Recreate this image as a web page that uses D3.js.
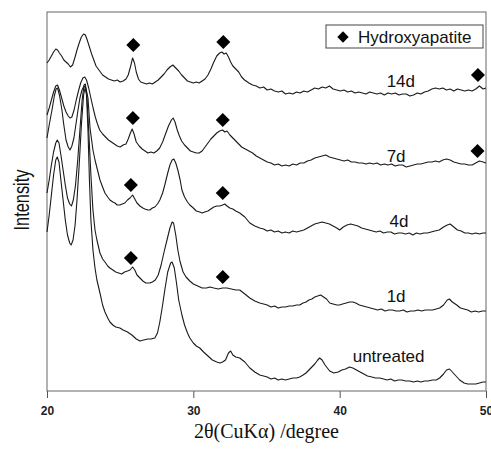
<!DOCTYPE html>
<html>
<head>
<meta charset="utf-8">
<script src="https://cdn.jsdelivr.net/npm/d3@7"></script>
<style>
  body { margin: 0; background: #fff; }
  svg { display: block; }
</style>
</head>
<body>
<svg id="xrd-svg" width="491" height="450"></svg>
<script>
// XRD patterns, [2theta (deg), intensity (a.u., offset stacked)]
const d14 = [[20.00,328],[20.15,331],[20.30,335],[20.45,339],[20.60,342],[20.72,341],[20.85,338],[21.00,335],[21.15,331],[21.30,329],[21.45,327],[21.60,324],[21.75,326],[21.90,333],[22.05,341],[22.20,348],[22.35,354],[22.50,357],[22.62,356],[22.75,351],[22.90,344],[23.05,337],[23.20,331],[23.35,325],[23.50,322],[23.65,319],[23.80,316],[24.00,314],[24.20,312],[24.40,311],[24.60,310],[24.80,311],[25.00,309],[25.20,310],[25.40,312],[25.55,316],[25.70,324],[25.85,333],[25.98,328],[26.10,319],[26.25,312],[26.40,309],[26.60,308],[26.80,307],[27.00,308],[27.20,307],[27.40,309],[27.60,311],[27.80,314],[28.00,317],[28.20,321],[28.40,324],[28.60,326],[28.80,323],[29.00,320],[29.20,316],[29.40,313],[29.60,310],[29.80,309],[30.00,308],[30.20,309],[30.40,308],[30.60,310],[30.80,312],[31.00,316],[31.20,322],[31.40,329],[31.60,335],[31.80,338],[31.95,339],[32.10,337],[32.25,338],[32.40,334],[32.55,329],[32.70,325],[32.90,322],[33.10,319],[33.30,314],[33.50,311],[33.80,308],[34.05,306],[34.30,305],[34.55,303],[34.80,304],[35.05,301],[35.30,302],[35.55,300],[35.80,299],[36.05,300],[36.30,297],[36.55,298],[36.80,297],[37.05,299],[37.30,298],[37.55,300],[37.80,299],[38.05,301],[38.30,303],[38.55,302],[38.80,304],[39.05,303],[39.30,305],[39.55,302],[39.80,301],[40.05,300],[40.30,301],[40.55,299],[40.80,300],[41.05,298],[41.30,299],[41.55,298],[41.80,297],[42.05,299],[42.30,298],[42.55,297],[42.80,298],[43.05,296],[43.30,298],[43.55,297],[43.80,298],[44.05,296],[44.30,297],[44.55,297],[44.80,295],[45.05,296],[45.30,298],[45.55,297],[45.80,299],[46.05,300],[46.30,302],[46.55,303],[46.80,302],[47.05,303],[47.30,301],[47.55,302],[47.80,300],[48.05,302],[48.30,301],[48.55,300],[48.80,301],[49.05,300],[49.30,302],[49.55,305],[49.80,302],[50.00,303]]

const d7 = [[20.00,276],[20.15,283],[20.30,291],[20.45,299],[20.60,305],[20.72,306],[20.85,301],[21.00,293],[21.15,285],[21.30,279],[21.45,275],[21.57,273],[21.70,274],[21.85,281],[22.00,291],[22.15,300],[22.30,308],[22.45,313],[22.58,314],[22.70,311],[22.85,303],[23.00,293],[23.15,283],[23.30,274],[23.45,267],[23.60,261],[23.80,257],[24.00,254],[24.20,251],[24.40,249],[24.60,247],[24.80,245],[25.00,244],[25.20,246],[25.40,247],[25.55,252],[25.70,258],[25.82,262],[25.95,257],[26.10,249],[26.30,245],[26.50,242],[26.70,240],[26.90,238],[27.10,239],[27.30,238],[27.50,240],[27.70,243],[27.90,249],[28.10,257],[28.30,265],[28.50,271],[28.62,273],[28.75,269],[28.90,261],[29.05,255],[29.20,250],[29.40,246],[29.60,243],[29.80,240],[30.00,239],[30.20,238],[30.40,238],[30.60,240],[30.80,244],[31.00,248],[31.20,252],[31.40,255],[31.60,258],[31.80,260],[32.00,261],[32.15,259],[32.30,260],[32.50,256],[32.70,253],[32.90,250],[33.10,247],[33.30,244],[33.55,242],[33.80,240],[34.05,238],[34.30,235],[34.55,233],[34.80,231],[35.05,229],[35.30,228],[35.55,226],[35.80,227],[36.05,225],[36.30,226],[36.55,225],[36.80,227],[37.05,226],[37.30,228],[37.55,228],[37.80,230],[38.05,231],[38.30,233],[38.55,234],[38.80,235],[39.05,236],[39.30,234],[39.55,233],[39.80,232],[40.05,231],[40.30,230],[40.55,231],[40.80,229],[41.05,229],[41.30,228],[41.55,228],[41.80,227],[42.05,228],[42.30,227],[42.55,228],[42.80,226],[43.05,227],[43.30,226],[43.55,227],[43.80,225],[44.05,226],[44.30,226],[44.55,224],[44.80,225],[45.05,226],[45.30,227],[45.55,227],[45.80,228],[46.05,229],[46.30,229],[46.55,230],[46.80,229],[47.05,231],[47.30,232],[47.55,231],[47.80,229],[48.05,228],[48.30,227],[48.55,227],[48.80,226],[49.05,226],[49.30,228],[49.55,230],[49.80,229],[50.00,228]]

const d4 = [[20.00,253],[20.15,266],[20.34,281],[20.50,295],[20.62,302],[20.72,303],[20.85,296],[21.02,281],[21.15,266],[21.30,251],[21.45,244],[21.57,241],[21.70,245],[21.84,253],[22.00,269],[22.12,281],[22.25,293],[22.39,301],[22.53,305],[22.66,303],[22.80,293],[22.94,263],[23.14,241],[23.28,231],[23.45,221],[23.62,211],[23.80,204],[23.96,198],[24.15,194],[24.30,191],[24.50,189],[24.64,188],[24.80,186],[24.98,186],[25.15,187],[25.32,188],[25.50,191],[25.67,193],[25.85,196],[26.00,192],[26.15,188],[26.35,185],[26.55,183],[26.69,182],[26.90,181],[27.03,181],[27.20,183],[27.37,184],[27.55,187],[27.71,191],[27.90,198],[28.05,206],[28.25,218],[28.40,226],[28.55,231],[28.67,232],[28.80,228],[28.94,221],[29.10,211],[29.22,201],[29.40,194],[29.60,189],[29.76,186],[30.00,183],[30.20,180],[30.44,179],[30.60,178],[30.78,179],[31.00,180],[31.20,182],[31.40,184],[31.60,185],[31.81,185],[32.00,186],[32.15,187],[32.30,185],[32.49,183],[32.70,182],[32.90,180],[33.17,178],[33.52,174],[33.86,168],[34.20,165],[34.54,163],[34.80,162],[35.05,160],[35.30,161],[35.55,159],[35.80,160],[36.05,158],[36.30,159],[36.55,158],[36.80,160],[37.05,159],[37.30,160],[37.55,161],[37.80,163],[38.05,165],[38.30,167],[38.55,168],[38.80,169],[39.05,168],[39.30,167],[39.55,165],[39.80,163],[40.00,161],[40.25,164],[40.50,166],[40.75,167],[41.00,166],[41.25,165],[41.50,163],[41.75,162],[42.00,161],[42.25,160],[42.50,159],[42.75,160],[43.00,158],[43.25,159],[43.50,159],[43.75,157],[44.00,158],[44.25,158],[44.50,157],[44.75,158],[45.00,156],[45.25,158],[45.50,157],[45.75,158],[46.00,158],[46.25,159],[46.50,160],[46.80,161],[47.10,164],[47.35,166],[47.55,167],[47.80,164],[48.05,161],[48.30,160],[48.55,158],[48.80,158],[49.05,157],[49.30,158],[49.55,157],[49.80,158],[50.00,158]]

const d1 = [[20.00,198],[20.15,211],[20.30,226],[20.45,239],[20.60,248],[20.70,251],[20.82,248],[20.95,236],[21.10,221],[21.25,206],[21.40,193],[21.55,187],[21.67,185],[21.80,191],[21.95,206],[22.10,231],[22.25,261],[22.40,291],[22.53,306],[22.62,307],[22.72,296],[22.85,261],[23.00,216],[23.14,181],[23.28,161],[23.41,151],[23.62,138],[23.80,132],[23.96,129],[24.15,125],[24.30,123],[24.50,121],[24.70,119],[24.90,118],[25.10,117],[25.30,119],[25.50,120],[25.67,121],[25.85,124],[26.00,121],[26.15,116],[26.35,113],[26.55,110],[26.75,108],[27.03,108],[27.20,109],[27.40,111],[27.60,116],[27.80,126],[28.00,139],[28.20,151],[28.40,163],[28.55,169],[28.65,168],[28.80,156],[28.94,141],[29.10,129],[29.30,119],[29.50,114],[29.76,110],[30.00,107],[30.30,105],[30.60,103],[30.90,103],[31.13,104],[31.40,103],[31.70,102],[32.00,103],[32.30,103],[32.60,102],[32.90,101],[33.17,101],[33.52,97],[33.86,93],[34.20,90],[34.54,88],[34.80,87],[35.05,86],[35.30,84],[35.55,85],[35.80,83],[36.05,84],[36.30,84],[36.55,85],[36.80,85],[37.05,86],[37.27,86],[37.50,88],[37.70,89],[37.90,91],[38.10,92],[38.30,94],[38.50,95],[38.70,96],[38.90,94],[39.10,92],[39.32,88],[39.55,87],[39.80,86],[40.00,86],[40.20,87],[40.45,88],[40.68,89],[40.90,89],[41.10,88],[41.35,86],[41.60,85],[41.85,84],[42.10,83],[42.35,82],[42.60,81],[42.85,82],[43.10,80],[43.35,81],[43.60,81],[43.85,80],[44.10,80],[44.35,81],[44.60,79],[44.85,80],[45.10,80],[45.35,81],[45.60,80],[45.85,81],[46.10,81],[46.35,81],[46.60,82],[46.83,83],[47.10,86],[47.35,91],[47.50,92],[47.70,89],[48.00,86],[48.25,83],[48.50,82],[48.75,81],[49.00,79],[49.25,80],[49.50,79],[49.75,80],[50.00,80]]

const d0 = [[20.00,159],[20.15,176],[20.30,196],[20.45,216],[20.60,231],[20.70,234],[20.82,229],[20.95,211],[21.10,191],[21.25,171],[21.40,156],[21.55,148],[21.65,146],[21.78,151],[21.92,166],[22.05,191],[22.20,226],[22.35,266],[22.50,296],[22.60,303],[22.70,296],[22.80,261],[22.90,211],[23.00,171],[23.14,141],[23.28,123],[23.41,111],[23.62,98],[23.80,86],[23.96,79],[24.15,73],[24.30,69],[24.50,66],[24.70,64],[24.98,63],[25.20,61],[25.50,59],[25.80,56],[26.10,52],[26.35,50],[26.60,51],[26.90,52],[27.10,52],[27.37,53],[27.55,58],[27.71,69],[27.90,86],[28.05,101],[28.25,119],[28.45,128],[28.55,129],[28.70,123],[28.85,108],[29.00,91],[29.22,76],[29.40,66],[29.60,58],[29.76,53],[30.00,48],[30.20,45],[30.44,43],[30.70,39],[31.00,35],[31.30,31],[31.60,29],[31.81,28],[32.00,29],[32.20,31],[32.40,38],[32.55,40],[32.70,36],[32.90,34],[33.17,33],[33.52,29],[33.86,23],[34.20,19],[34.54,16],[34.80,15],[35.05,14],[35.30,12],[35.55,13],[35.80,11],[36.05,12],[36.30,11],[36.55,12],[36.80,13],[37.05,13],[37.27,14],[37.50,16],[37.70,18],[37.90,21],[38.10,24],[38.30,27],[38.50,31],[38.63,33],[38.80,31],[39.00,26],[39.32,20],[39.60,18],[39.90,19],[40.15,21],[40.40,22],[40.68,24],[40.90,23],[41.15,21],[41.40,19],[41.65,17],[41.90,15],[42.20,14],[42.45,13],[42.73,13],[43.00,12],[43.25,11],[43.50,12],[43.75,10],[44.00,11],[44.25,11],[44.50,10],[44.78,10],[45.05,9],[45.30,10],[45.55,9],[45.80,10],[46.05,10],[46.35,11],[46.60,11],[46.83,13],[47.10,17],[47.30,21],[47.51,22],[47.70,19],[47.95,15],[48.20,11],[48.50,8],[48.75,7],[49.00,7],[49.30,7],[49.55,8],[49.80,9],[50.00,9]]

// hydroxyapatite reflections marked above each pattern
const hap14 = [[25.90,346],[32.05,349],[49.45,316]]
const hap7 = [[25.87,273],[32.01,271],[49.42,240]]
const hap4 = [[25.73,206],[32.01,198]]
const hap1 = [[25.73,133],[32.01,114]]

const sampleNames = ["14d", "7d", "4d", "1d", "untreated"]
const labelAt = [[43.21,304],[43.21,229],[43.41,164],[43.21,89],[40.89,29]]
const xTicks = [20, 30, 40, 50]

let svg = d3.select("#xrd-svg")
let plotLeft = 47, plotRight = 486, plotTop = 12, plotBottom = 391

let xScale = d3.scaleLinear().domain([20, 50]).range([plotLeft, plotRight])
let yScale = d3.scaleLinear().domain([0, 379]).range([plotBottom, plotTop])

// x axis
let xAxis = svg.append("g")
    .attr("transform", "translate(0," + plotBottom + ")")
    .call(d3.axisBottom(xScale).tickValues(xTicks).tickSize(7).tickSizeOuter(0))
xAxis.select(".domain").remove()
xAxis.selectAll(".tick line").attr("stroke", "#555")
xAxis.selectAll(".tick text")
    .attr("y", 15)
    .attr("fill", "#222")
    .style("font-family", "'Liberation Sans', Arial, sans-serif")
    .style("font-size", "12px")
    .style("font-weight", "bold")

// plot frame
svg.append("rect")
    .attr("x", plotLeft).attr("y", plotTop)
    .attr("width", plotRight - plotLeft).attr("height", plotBottom - plotTop)
    .attr("fill", "none")
    .attr("stroke", "#666")
    .attr("stroke-width", 1)

let valueLine = d3.line()
    .x(d => xScale(d[0]))
    .y(d => yScale(d[1]))

let series = [d14, d7, d4, d1, d0]
series.forEach(s => {
    svg.append("path")
        .datum(s)
        .attr("d", valueLine)
        .attr("fill", "none")
        .attr("stroke", "#1a1a1a")
        .attr("stroke-width", 1.1)
        .attr("stroke-linejoin", "round")
})

// diamonds
let diamond = d3.symbol().type(d3.symbolSquare).size(98)
let marks = [].concat(hap14, hap7, hap4, hap1)
svg.selectAll(".hap")
    .data(marks)
    .join("path")
    .attr("class", "hap")
    .attr("d", diamond)
    .attr("transform", d => "translate(" + xScale(d[0]) + "," + yScale(d[1]) + ") rotate(45)")
    .attr("fill", "#000")

// sample labels
svg.selectAll(".lbl")
    .data(sampleNames)
    .join("text")
    .attr("class", "lbl")
    .attr("x", (d, i) => xScale(labelAt[i][0]))
    .attr("y", (d, i) => yScale(labelAt[i][1]))
    .style("font-family", "'Liberation Sans', Arial, sans-serif")
    .style("font-size", "17px")
    .attr("fill", "#111")
    .text(d => d)

// legend
let legend = svg.append("g")
legend.append("rect")
    .attr("x", 326).attr("y", 25)
    .attr("width", 157).attr("height", 23)
    .attr("fill", "#fff")
    .attr("stroke", "#444")
legend.append("path")
    .attr("d", d3.symbol().type(d3.symbolSquare).size(64))
    .attr("transform", "translate(343,37) rotate(45)")
    .attr("fill", "#000")
legend.append("text")
    .attr("x", 358).attr("y", 43)
    .style("font-family", "'Liberation Sans', Arial, sans-serif")
    .style("font-size", "17px")
    .attr("fill", "#111")
    .text("Hydroxyapatite")

// axis titles
svg.append("text")
    .attr("x", (plotLeft + plotRight) / 2).attr("y", 438)
    .attr("text-anchor", "middle")
    .style("font-family", "'Liberation Serif', 'Times New Roman', serif")
    .style("font-size", "20px")
    .attr("fill", "#111")
    .text("2θ(CuKα) /degree")

svg.append("text")
    .attr("transform", "translate(29,200) rotate(-90)")
    .attr("text-anchor", "middle")
    .attr("textLength", 61)
    .attr("lengthAdjust", "spacingAndGlyphs")
    .style("font-family", "'Liberation Sans', Arial, sans-serif")
    .style("font-size", "22px")
    .attr("fill", "#111")
    .text("Intensity")
</script>
</body>
</html>
